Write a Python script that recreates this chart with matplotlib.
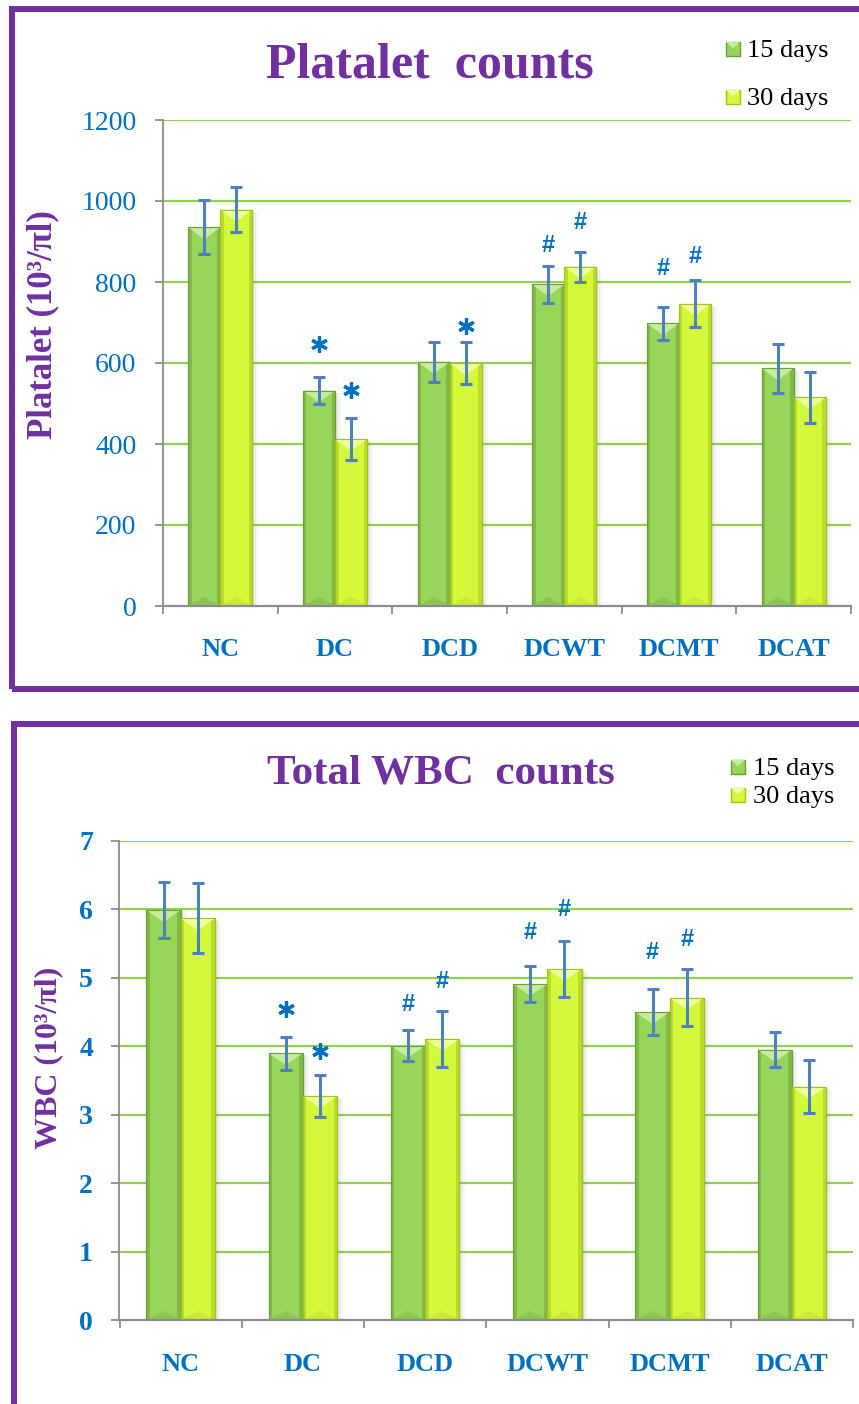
import matplotlib
matplotlib.use("Agg")
import matplotlib.pyplot as plt
from matplotlib.patches import Rectangle, Polygon
import numpy as np

# ---------------- data ----------------
groups = ["NC", "DC", "DCD", "DCWT", "DCMT", "DCAT"]
series_names = ["15 days", "30 days"]

platelet_15 = [935, 532, 603, 794, 698, 587]
platelet_15_sd = [67, 34, 49, 45, 40, 60]
platelet_30 = [979, 412, 599, 838, 746, 516]
platelet_30_sd = [55, 52, 52, 37, 58, 63]
platelet_ticks = [0, 200, 400, 600, 800, 1000, 1200]

wbc_15 = [5.99, 3.90, 4.01, 4.91, 4.50, 3.95]
wbc_15_sd = [0.41, 0.24, 0.23, 0.27, 0.33, 0.26]
wbc_30 = [5.87, 3.27, 4.11, 5.13, 4.71, 3.41]
wbc_30_sd = [0.51, 0.31, 0.41, 0.41, 0.42, 0.39]
wbc_ticks = [0, 1, 2, 3, 4, 5, 6, 7]

# significance symbols: (group, series index, symbol)
platelet_sig = [("DC", 0, "*"), ("DC", 1, "*"), ("DCD", 1, "*"),
                ("DCWT", 0, "#"), ("DCWT", 1, "#"),
                ("DCMT", 0, "#"), ("DCMT", 1, "#")]
wbc_sig = [("DC", 0, "*"), ("DC", 1, "*"), ("DCD", 0, "#"), ("DCD", 1, "#"),
           ("DCWT", 0, "#"), ("DCWT", 1, "#"),
           ("DCMT", 0, "#"), ("DCMT", 1, "#")]
# gap (px) between error-bar cap and symbol centre
platelet_sig_gap = [33, 28, 16, 22, 31, 40, 25]
wbc_sig_gap = [28, 24, 27, 31, 35, 33, 39, 31]

# ---------------- style ----------------
W, H = 859, 1404
PURPLE = "#7030A0"
BLUE = "#0070C0"
ERR = "#4F81BD"
GRID = "#92D050"
AXIS = "#8C8C8C"
SERIF = ["Liberation Serif", "DejaVu Serif"]
SANS = ["Liberation Sans", "DejaVu Sans"]
# (main, dark edge, top bevel, bottom bevel)
PALETTE = [("#98D55B", "#6E9E36", "#C6EC9E", "#8CC652"),
           ("#D4F83A", "#A3C21C", "#F0FF9E", "#C8EA34")]
BAR_W = 0.28

fig = plt.figure(figsize=(W / 100, H / 100), dpi=100)


def fx(px):
    return px / W


def fy(py):
    return 1 - py / H


def draw_bars(ax, vals, sds, k, sx, sy):
    main, dark, top, bot = PALETTE[k]
    off = (k - 0.5) * BAR_W
    xs = np.arange(len(vals)) + off
    bars = ax.bar(xs, vals, BAR_W, color=main, edgecolor=dark, linewidth=0.8,
                  zorder=3, label=series_names[k])
    for p in bars:
        x0, w, h = p.get_x(), p.get_width(), p.get_height()
        x1, xc = x0 + w, x0 + w / 2
        # soft drop shadow on the right
        for i, a in enumerate([0.10, 0.08, 0.06]):
            ax.add_patch(Rectangle((x0 + (2 + 2 * i) * sx, 0), w, h - (1 + i) * sy,
                                   facecolor="#7F7F7F", edgecolor="none",
                                   alpha=a, zorder=2.5))
        d_top, d_bot, strip = 12 * sy, 9 * sy, 3.5 * sx
        ax.add_patch(Rectangle((x0, 0), strip, h, facecolor=dark, alpha=0.5,
                               edgecolor="none", zorder=3.2))
        ax.add_patch(Rectangle((x1 - strip, 0), strip, h, facecolor=dark, alpha=0.5,
                               edgecolor="none", zorder=3.2))
        ax.add_patch(Polygon([(x0, h), (x1, h), (xc, h - d_top)], closed=True,
                             facecolor=top, edgecolor="none", zorder=3.4))
        ax.add_patch(Polygon([(x0, 0), (x1, 0), (xc, d_bot)], closed=True,
                             facecolor=bot, edgecolor="none", zorder=3.4))
        ax.add_patch(Rectangle((x0, 0), w, h, fill=False, edgecolor=dark,
                               linewidth=0.8, zorder=3.5))
    ax.errorbar(xs, vals, yerr=sds, fmt="none", ecolor=ERR, elinewidth=2.2,
                capsize=4.4, capthick=2.2, zorder=5)
    return xs


def panel(rect_px, s15, e15, s30, e30, ticks, tick_bold, sig, sig_gap,
          ylabel, ylabel_xy, ylabel_size, title, title_xy, title_size,
          legend_px, label_pad):
    left, top_, right, bottom = rect_px
    ax = fig.add_axes([fx(left), fy(bottom), (right - left) / W, (bottom - top_) / H])
    ymax = ticks[-1]
    ax.set_xlim(-0.5, len(groups) - 0.5)
    ax.set_ylim(0, ymax)
    sx = (len(groups)) / (right - left)
    sy = ymax / (bottom - top_)

    for y in ticks[1:]:
        ax.axhline(y, color=GRID, linewidth=1.6, zorder=1)

    xs15 = draw_bars(ax, s15, e15, 0, sx, sy)
    xs30 = draw_bars(ax, s30, e30, 1, sx, sy)

    centres = {0: (xs15, s15, e15), 1: (xs30, s30, e30)}
    for (g, k, sym), gap in zip(sig, sig_gap):
        i = groups.index(g)
        xs, v, e = centres[k]
        yc = v[i] + e[i] + gap * sy
        if sym == "*":
            ax.plot([xs[i]], [yc], marker=(6, 2, 0), markersize=12,
                    markeredgewidth=2.3, color=BLUE, zorder=6, clip_on=False)
        else:
            fs = 17
            ax.text(xs[i], yc - 0.34 * fs * 100 / 72 * sy, sym, ha="center",
                    va="baseline", fontsize=fs, fontweight="bold", color=BLUE,
                    family=SANS, zorder=6, clip_on=False)

    for s in ["top", "right"]:
        ax.spines[s].set_visible(False)
    ax.spines["left"].set_color(AXIS)
    ax.spines["left"].set_linewidth(1.3)
    ax.spines["bottom"].set_color(AXIS)
    ax.spines["bottom"].set_linewidth(1.6)
    ax.spines["bottom"].set_zorder(4)

    ax.set_yticks(ticks)
    ax.set_yticklabels([str(t) for t in ticks])
    ax.tick_params(axis="y", direction="out", length=6, width=1.3, color=AXIS,
                   pad=13, labelsize=20, labelcolor=BLUE)
    for lab in ax.get_yticklabels():
        lab.set_family(SERIF)
        lab.set_fontweight("bold" if tick_bold else "normal")

    ax.set_xticks(np.arange(len(groups)))
    ax.set_xticklabels(groups)
    ax.set_xticks(np.arange(len(groups) + 1) - 0.5, minor=True)
    ax.tick_params(axis="x", which="major", length=0, pad=label_pad,
                   labelsize=19, labelcolor=BLUE)
    ax.tick_params(axis="x", which="minor", direction="out", length=6,
                   width=1.3, color=AXIS)
    for lab in ax.get_xticklabels():
        lab.set_family(SERIF)
        lab.set_fontweight("bold")

    fig.text(fx(ylabel_xy[0]), fy(ylabel_xy[1]), ylabel, rotation=90,
             ha="center", va="center", fontsize=ylabel_size, fontweight="bold",
             color=PURPLE, family=SERIF)
    fig.text(fx(title_xy[0]), fy(title_xy[1]), title, ha="center",
             va="baseline", fontsize=title_size, fontweight="bold",
             color=PURPLE, family=SERIF)

    # legend: square swatch + label, placed in figure pixels
    sq_x, txt_x, rows = legend_px
    for k, base in enumerate(rows):
        main, dark, topc, _ = PALETTE[k]
        fig.add_artist(Rectangle((fx(sq_x), fy(base - 1)), 14 / W, 14 / H,
                                 transform=fig.transFigure, facecolor=main,
                                 edgecolor=dark, linewidth=1.0))
        fig.add_artist(Polygon([(fx(sq_x), fy(base - 15)), (fx(sq_x + 14), fy(base - 15)),
                                (fx(sq_x + 7), fy(base - 9))],
                               closed=True, transform=fig.transFigure,
                               facecolor=topc, edgecolor="none"))
        fig.text(fx(txt_x), fy(base), series_names[k], ha="left", va="baseline",
                 fontsize=19, color="black", family=SERIF)
    return ax


# panel frames
fig.add_artist(Rectangle((fx(11.5), fy(688.5)), fx(920) - fx(11.5), fy(8.5) - fy(688.5),
                         transform=fig.transFigure, fill=False, edgecolor=PURPLE,
                         linewidth=4.3, clip_on=False))
fig.add_artist(Rectangle((fx(14), fy(1480)), fx(920) - fx(14), fy(724) - fy(1480),
                         transform=fig.transFigure, fill=False, edgecolor=PURPLE,
                         linewidth=4.3, clip_on=False))

panel((163, 120, 851, 606), platelet_15, platelet_15_sd, platelet_30, platelet_30_sd,
      platelet_ticks, False, platelet_sig, platelet_sig_gap,
      "Platalet (10³/πl)", (43, 325), 25, "Platalet  counts", (430, 78), 36,
      (726, 747, [57, 105]), 23)

panel((119.5, 841, 853, 1320), wbc_15, wbc_15_sd, wbc_30, wbc_30_sd,
      wbc_ticks, True, wbc_sig, wbc_sig_gap,
      "WBC (10³/πl)", (49, 1058), 23, "Total WBC  counts", (441, 783), 31,
      (731, 753, [775, 803]), 24)

fig.savefig("out.png", dpi=100)
